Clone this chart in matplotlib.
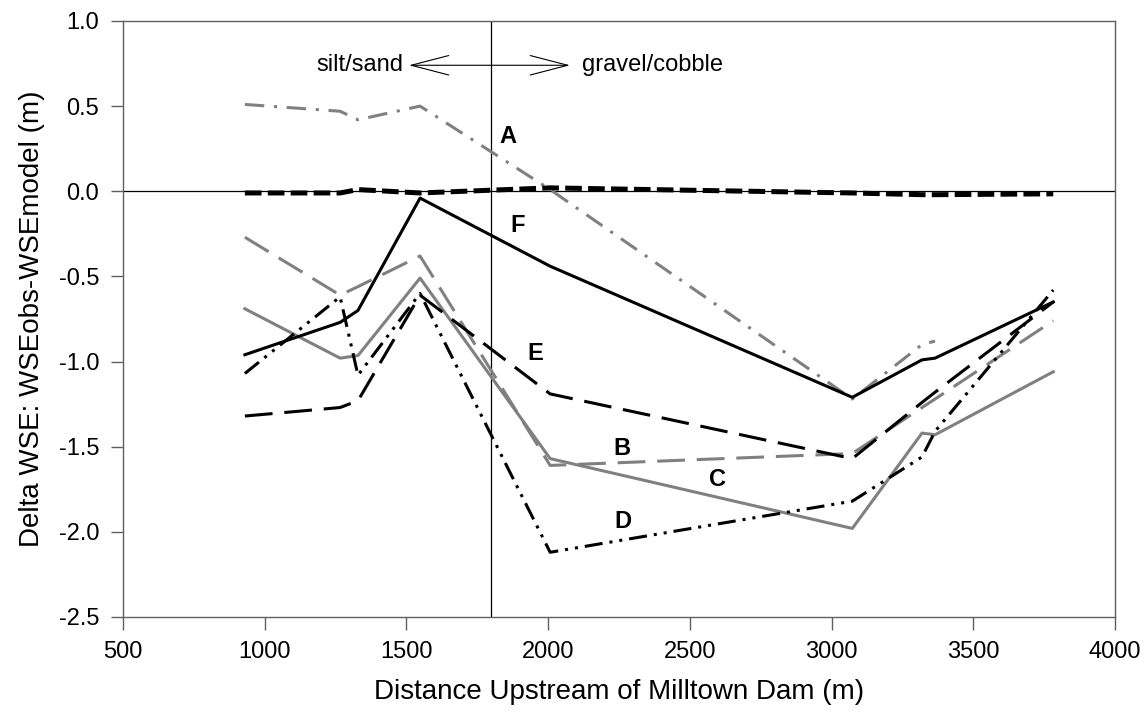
import numpy as np
import matplotlib
matplotlib.use('Agg')
import matplotlib.pyplot as plt

# =============================================================================
# Delta WSE vs distance upstream of Milltown Dam
# =============================================================================

DIST = [930, 1266, 1329, 1548, 2007, 3073, 3319, 3365, 3782]

SERIES_A = [0.51, 0.47, 0.42, 0.50, 0.01, -1.22, -0.90, -0.88, np.nan]
SERIES_B = [-0.27, -0.61, -0.56, -0.38, -1.61, -1.54, -1.27, -1.22, -0.76]
SERIES_C = [-0.69, -0.98, -0.965, -0.51, -1.57, -1.98, -1.42, -1.43, -1.06]
SERIES_D = [-1.07, -0.62, -1.08, -0.60, -2.12, -1.82, -1.56, -1.41, -0.58]
SERIES_E = [-1.32, -1.27, -1.23, -0.61, -1.19, -1.57, -1.24, -1.18, -0.65]
SERIES_F = [-0.96, -0.77, -0.70, -0.04, -0.44, -1.21, -0.99, -0.98, -0.65]
SERIES_Z = [-0.01, -0.01, 0.01, -0.01, 0.02, -0.01, -0.02, -0.02, -0.015]

LABELS = ['A', 'B', 'C', 'D', 'E', 'F']
LABEL_POS = [(1858, 0.32), (2261, -1.51), (2596, -1.69),
             (2265, -1.94), (1954, -0.95), (1894, -0.20)]

BOUNDARY = 1800

plt.rcParams['font.family'] = ['Liberation Sans', 'DejaVu Sans']
plt.rcParams['lines.scale_dashes'] = False

GRAY = '#808080'
LW = 2.2

fig = plt.figure(figsize=(11.44, 7.19), dpi=100)
ax = fig.add_axes([0.1075, 0.1419, 0.8672, 0.8289])

ax.axhline(0, color='black', linewidth=0.9, zorder=1)
ax.axvline(BOUNDARY, color='black', linewidth=0.9, zorder=1)

ax.plot(DIST, SERIES_A, color=GRAY, linewidth=LW, dashes=(14, 7, 2.2, 7))
ax.plot(DIST, SERIES_B, color=GRAY, linewidth=LW, dashes=(20, 8.5))
ax.plot(DIST, SERIES_C, color=GRAY, linewidth=LW)
ax.plot(DIST, SERIES_D, color='black', linewidth=LW,
        dashes=(13, 5, 2.2, 5, 2.2, 5))
ax.plot(DIST, SERIES_E, color='black', linewidth=LW, dashes=(20, 8.5))
ax.plot(DIST, SERIES_F, color='black', linewidth=LW)
ax.plot(DIST, SERIES_Z, color='black', linewidth=3.6, dashes=(12, 4.5))

for lab, (x, y) in zip(LABELS, LABEL_POS):
    ax.text(x, y, lab, fontsize=17, fontweight='bold', ha='center', va='center')

ax.annotate('', xy=(2077, 0.74), xytext=(1509, 0.74),
            arrowprops=dict(arrowstyle='<->,head_length=27,head_width=7',
                            mutation_scale=1, color='black', linewidth=0.8,
                            shrinkA=0, shrinkB=0))
ax.text(1488, 0.74, 'silt/sand', fontsize=17, ha='right', va='center')
ax.text(2120, 0.74, 'gravel/cobble', fontsize=17, ha='left', va='center')

ax.set_xlim(500, 4000)
ax.set_ylim(-2.5, 1.0)
ax.set_xticks(np.arange(500, 4001, 500))
ax.set_yticks(np.arange(-2.5, 1.01, 0.5))
ax.yaxis.set_major_formatter(matplotlib.ticker.FormatStrFormatter('%.1f'))
ax.tick_params(direction='out', length=9, width=1, color='#606060',
               labelsize=17, pad=8)
for s in ax.spines.values():
    s.set_color('#606060')
    s.set_linewidth(1)

ax.set_xlabel('Distance Upstream of Milltown Dam (m)', fontsize=20, labelpad=12)
ax.set_ylabel('Delta WSE: WSEobs-WSEmodel (m)', fontsize=20, labelpad=10)

plt.savefig('out.png', dpi=100)
